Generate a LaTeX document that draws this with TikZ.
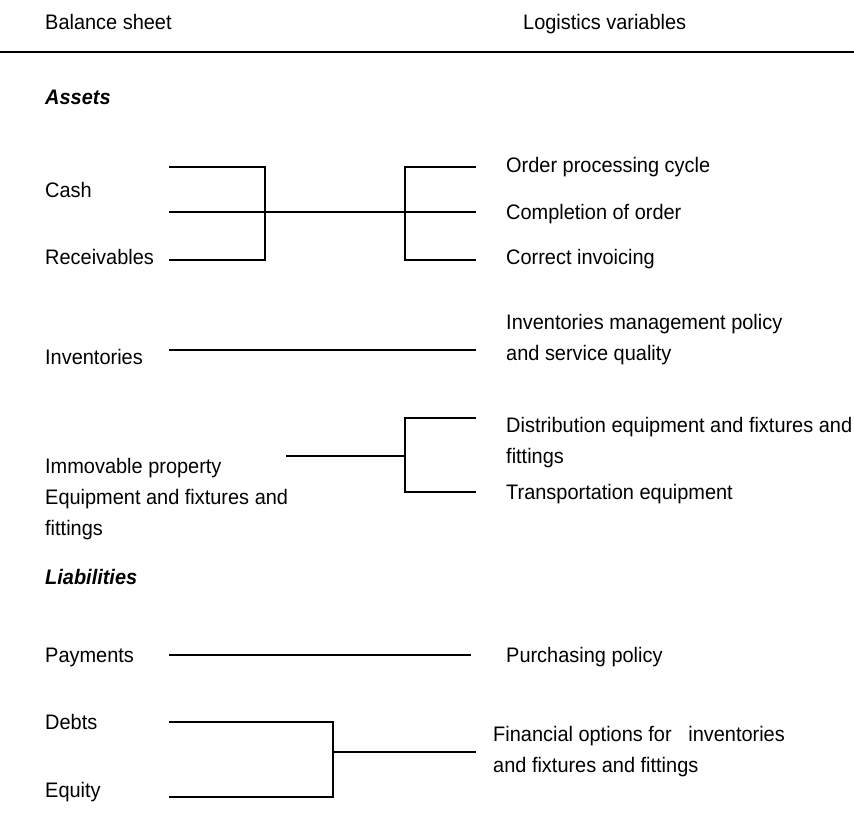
\documentclass[tikz,border=0pt]{standalone}
\usepackage{fontspec}
\setmainfont{Liberation Sans}[FakeStretch=0.95]
\begin{document}
\begin{tikzpicture}[x=1pt,y=-1pt,
  lbl/.style={anchor=base west,inner sep=0pt,font=\fontsize{21}{31}\selectfont,align=left},
  mlbl/.style={lbl,anchor=west},
  sect/.style={lbl,font=\fontsize{21}{31}\selectfont\bfseries\itshape},
  conn/.style={line width=2pt,line cap=rect}]
\useasboundingbox[fill=white] (0,0) rectangle (854,816);
% header
\node[lbl] (hbs) at (45,30) {Balance sheet};
\node[lbl] (hlv) at (523,30) {Logistics variables};
\coordinate (rl) at (0,52);
\coordinate (rr) at (854,52);
\draw[line width=2.5pt] (rl) -- (rr);
% section Assets
\node[sect] (assets) at (45,104) {Assets};
% group 1
\node[lbl] (cash) at (45,197) {Cash};
\node[lbl] (recv) at (45,264) {Receivables};
\node[lbl] (opc) at (506,172) {Order processing cycle};
\node[lbl] (coo) at (506,219) {Completion of order};
\node[lbl] (ci) at (506,264) {Correct invoicing};
\coordinate (a1) at (170,167); \coordinate (a2) at (170,212); \coordinate (a3) at (170,260);
\coordinate (b1) at (265,167); \coordinate (b2) at (265,212); \coordinate (b3) at (265,260);
\coordinate (c1) at (405,167); \coordinate (c2) at (405,212); \coordinate (c3) at (405,260);
\coordinate (d1) at (475,167); \coordinate (d2) at (475,212); \coordinate (d3) at (475,260);
\draw[conn] (a1) -- (b1) -- (b3) -- (a3);
\draw[conn] (a2) -- (b2) -- (c2) -- (d2);
\draw[conn] (d1) -- (c1) -- (c3) -- (d3);
% inventories
\node[lbl] (inv) at (45,364) {Inventories};
\node[mlbl] (imp) at (506,340) {Inventories management policy\\and service quality};
\coordinate (e1) at (170,350); \coordinate (e2) at (475,350);
\draw[conn] (e1) -- (e2);
% immovable property
\node[mlbl] (imm) at (45,499) {Immovable property\\Equipment and fixtures and\\fittings};
\node[mlbl] (def) at (506,443) {Distribution equipment and fixtures and\\fittings};
\node[lbl] (te) at (506,499) {Transportation equipment};
\coordinate (f1) at (287,456); \coordinate (f2) at (405,456);
\coordinate (g1) at (475,418); \coordinate (g2) at (405,418);
\coordinate (g3) at (405,492); \coordinate (g4) at (475,492);
\draw[conn] (f1) -- (f2);
\draw[conn] (g1) -- (g2) -- (g3) -- (g4);
% section Liabilities
\node[sect] (liab) at (45,584) {Liabilities};
% payments
\node[lbl] (pay) at (45,662) {Payments};
\node[lbl] (pp) at (506,662) {Purchasing policy};
\coordinate (h1) at (170,655); \coordinate (h2) at (470,655);
\draw[conn] (h1) -- (h2);
% debts/equity
\node[lbl] (debts) at (45,729) {Debts};
\node[lbl] (equity) at (45,797) {Equity};
\node[mlbl] (fo) at (493,752) {Financial options for \ \ inventories\\and fixtures and fittings};
\coordinate (k1) at (170,722); \coordinate (k2) at (333,722);
\coordinate (k3) at (333,797); \coordinate (k4) at (170,797);
\coordinate (k5) at (333,752); \coordinate (k6) at (475,752);
\draw[conn] (k1) -- (k2) -- (k3) -- (k4);
\draw[conn] (k5) -- (k6);
\end{tikzpicture}
\end{document}
